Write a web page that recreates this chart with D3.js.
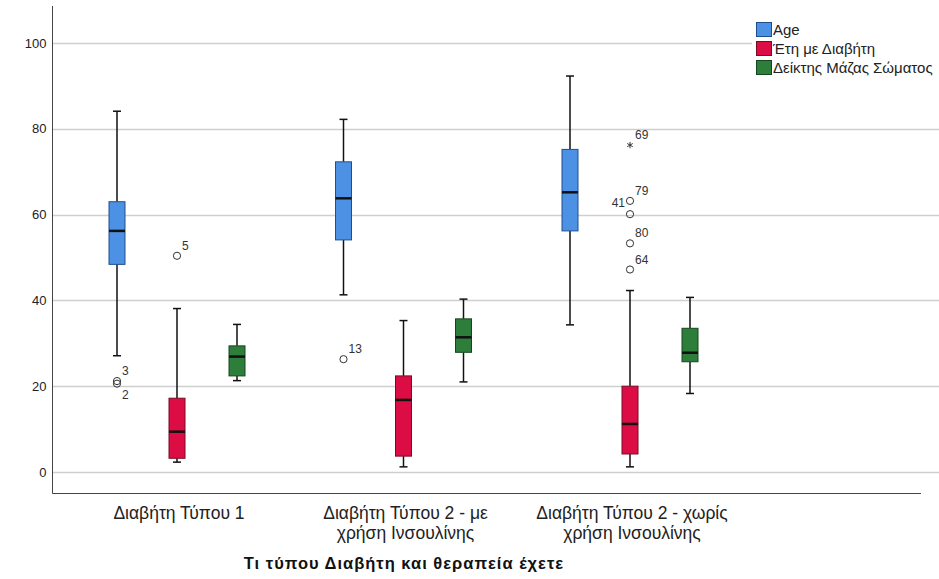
<!DOCTYPE html>
<html>
<head>
<meta charset="utf-8">
<script src="https://cdn.jsdelivr.net/npm/d3@7"></script>
<style>
  body { margin: 0; background: #fff; }
  svg { font-family: 'Liberation Sans', Arial, sans-serif; }
</style>
</head>
<body>
<div class="canvas"></div>
<script>
// data
const categories = [
  'Διαβήτη Τύπου 1',
  'Διαβήτη Τύπου 2 - με χρήση Ινσουλίνης',
  'Διαβήτη Τύπου 2 - χωρίς χρήση Ινσουλίνης'
];
const categoryLines = [
  ['Διαβήτη Τύπου 1'],
  ['Διαβήτη Τύπου 2 - με', 'χρήση Ινσουλίνης'],
  ['Διαβήτη Τύπου 2 - χωρίς', 'χρήση Ινσουλίνης']
];
const series = ['Age', 'Έτη με Διαβήτη', 'Δείκτης Μάζας Σώματος'];
const colors = ['#4d91e4', '#dc0c45', '#2d7d3b'];
const strokes = ['#1f4f8f', '#7a0a24', '#16461e'];

// [low whisker, q1, median, q3, high whisker], one row per category
const ageStats = [
  [27.1, 48.4, 56.2, 63.0, 84.1],
  [41.3, 54.1, 63.8, 72.3, 82.2],
  [34.3, 56.2, 65.2, 75.2, 92.3]
];
const yearsStats = [
  [2.3, 3.2, 9.4, 17.2, 38.1],
  [1.2, 3.7, 16.8, 22.4, 35.3],
  [1.2, 4.2, 11.2, 20.0, 42.3]
];
const bmiStats = [
  [21.3, 22.4, 26.9, 29.4, 34.4],
  [21.0, 27.9, 31.4, 35.7, 40.3],
  [18.3, 25.7, 27.8, 33.5, 40.7]
];
const allStats = [ageStats, yearsStats, bmiStats];

// outliers: category index, series index, value, case label, extreme?
const outliers = [
  { cat: 0, s: 0, value: 21.2, label: '3', extreme: false },
  { cat: 0, s: 0, value: 20.6, label: '2', extreme: false },
  { cat: 0, s: 1, value: 50.4, label: '5', extreme: false },
  { cat: 1, s: 0, value: 26.3, label: '13', extreme: false },
  { cat: 2, s: 1, value: 76.2, label: '69', extreme: true },
  { cat: 2, s: 1, value: 63.2, label: '79', extreme: false },
  { cat: 2, s: 1, value: 60.1, label: '41', extreme: false },
  { cat: 2, s: 1, value: 53.3, label: '80', extreme: false },
  { cat: 2, s: 1, value: 47.2, label: '64', extreme: false }
];
const yTicks = [0, 20, 40, 60, 80, 100];
const xTitle = 'Τι τύπου Διαβήτη και θεραπεία έχετε';

const width = 939;
const height = 579;

const svg = d3
  .select('.canvas')
  .append('svg')
  .attr('width', width)
  .attr('height', height);

// scales
const y = d3.scaleLinear().domain([0, 100]).range([472, 43]);
const x = d3.scaleBand().domain(categories).range([63.75, 743.25]).padding(0);
const inner = d3
  .scalePoint()
  .domain(series)
  .range([x.bandwidth() / 2 - 60, x.bandwidth() / 2 + 60]);

const axisLeftX = 52.5;
const axisBottomY = 493.5;
const boxW = 16;
const capW = 8;

// gridlines
svg
  .append('g')
  .selectAll('line')
  .data(yTicks)
  .enter()
  .append('line')
  .attr('x1', axisLeftX)
  .attr('x2', width)
  .attr('y1', d => Math.round(y(d)) + 0.5)
  .attr('y2', d => Math.round(y(d)) + 0.5)
  .attr('stroke', '#cfcfcf')
  .attr('stroke-width', 1.3);

// y axis
const yAxis = d3.axisLeft(y).tickValues(yTicks).tickSize(0).tickPadding(6);
const yAxisGroup = svg
  .append('g')
  .attr('transform', `translate(${axisLeftX}, 0)`)
  .call(yAxis);
yAxisGroup.select('.domain').remove();
yAxisGroup.selectAll('text').attr('font-size', 13).attr('fill', '#222');

svg
  .append('line')
  .attr('x1', axisLeftX)
  .attr('x2', axisLeftX)
  .attr('y1', 6)
  .attr('y2', axisBottomY)
  .attr('stroke', '#444')
  .attr('stroke-width', 1);

svg
  .append('line')
  .attr('x1', axisLeftX)
  .attr('x2', 921)
  .attr('y1', axisBottomY)
  .attr('y2', axisBottomY)
  .attr('stroke', '#444')
  .attr('stroke-width', 1);

// category labels
categories.forEach((c, i) => {
  const cx = x(c) + x.bandwidth() / 2 + 2;
  const t = svg
    .append('text')
    .attr('x', cx)
    .attr('y', 519)
    .attr('text-anchor', 'middle')
    .attr('font-size', 17.5)
    .attr('fill', '#222');
  categoryLines[i].forEach((line, j) => {
    t.append('tspan').attr('x', cx).attr('dy', j === 0 ? 0 : 19.5).text(line);
  });
});

svg
  .append('text')
  .attr('x', 404)
  .attr('y', 569)
  .attr('text-anchor', 'middle')
  .attr('font-size', 16.5)
  .attr('letter-spacing', 1)
  .attr('font-weight', 'bold')
  .attr('fill', '#111')
  .text(xTitle);

// boxes
const boxes = svg.append('g');
categories.forEach((c, ci) => {
  series.forEach((s, si) => {
    const [lo, q1, med, q3, hi] = allStats[si][ci];
    const cx = x(c) + inner(s);
    const g = boxes.append('g');
    // whiskers
    g.append('line')
      .attr('x1', cx).attr('x2', cx)
      .attr('y1', y(hi)).attr('y2', y(q3))
      .attr('stroke', '#111').attr('stroke-width', 1.5);
    g.append('line')
      .attr('x1', cx).attr('x2', cx)
      .attr('y1', y(q1)).attr('y2', y(lo))
      .attr('stroke', '#111').attr('stroke-width', 1.5);
    [lo, hi].forEach(v => {
      g.append('line')
        .attr('x1', cx - capW / 2).attr('x2', cx + capW / 2)
        .attr('y1', y(v)).attr('y2', y(v))
        .attr('stroke', '#111').attr('stroke-width', 1.5);
    });
    // box
    g.append('rect')
      .attr('x', cx - boxW / 2)
      .attr('y', y(q3))
      .attr('width', boxW)
      .attr('height', y(q1) - y(q3))
      .attr('fill', colors[si])
      .attr('stroke', strokes[si])
      .attr('stroke-width', 1);
    // median
    g.append('line')
      .attr('x1', cx - boxW / 2).attr('x2', cx + boxW / 2)
      .attr('y1', y(med)).attr('y2', y(med))
      .attr('stroke', '#111').attr('stroke-width', 2.5);
  });
});

// outliers
const labelOffsets = { '2': [5, 15, 'start'], '41': [-5, -7, 'end'] };
const outG = svg.append('g');
outliers.forEach(o => {
  const cx = x(categories[o.cat]) + inner(series[o.s]);
  const cy = y(o.value);
  if (o.extreme) {
    outG
      .append('path')
      .attr('d', d3.symbol(d3.symbolAsterisk, 28)())
      .attr('transform', `translate(${cx}, ${cy})`)
      .attr('stroke', '#333')
      .attr('stroke-width', 1)
      .attr('fill', 'none');
  } else {
    outG
      .append('circle')
      .attr('cx', cx)
      .attr('cy', cy)
      .attr('r', 3.6)
      .attr('fill', 'none')
      .attr('stroke', '#333')
      .attr('stroke-width', 1);
  }
  const off = labelOffsets[o.label] || [5, -6, 'start'];
  outG
    .append('text')
    .attr('x', cx + off[0])
    .attr('y', cy + off[1])
    .attr('text-anchor', off[2])
    .attr('font-size', 12)
    .attr('fill', '#333')
    .text(o.label);
});

// legend
const legend = svg.append('g').attr('transform', 'translate(752, 14)');
legend
  .append('rect')
  .attr('width', 187)
  .attr('height', 66)
  .attr('fill', '#fff');
series.forEach((s, i) => {
  legend
    .append('rect')
    .attr('x', 4.5)
    .attr('y', 8.5 + i * 19)
    .attr('width', 15)
    .attr('height', 14)
    .attr('fill', colors[i])
    .attr('stroke', strokes[i]);
  legend
    .append('text')
    .attr('x', 21)
    .attr('y', 21 + i * 19)
    .attr('font-size', 15)
    .attr('fill', '#222')
    .text(s);
});
</script>
</body>
</html>
